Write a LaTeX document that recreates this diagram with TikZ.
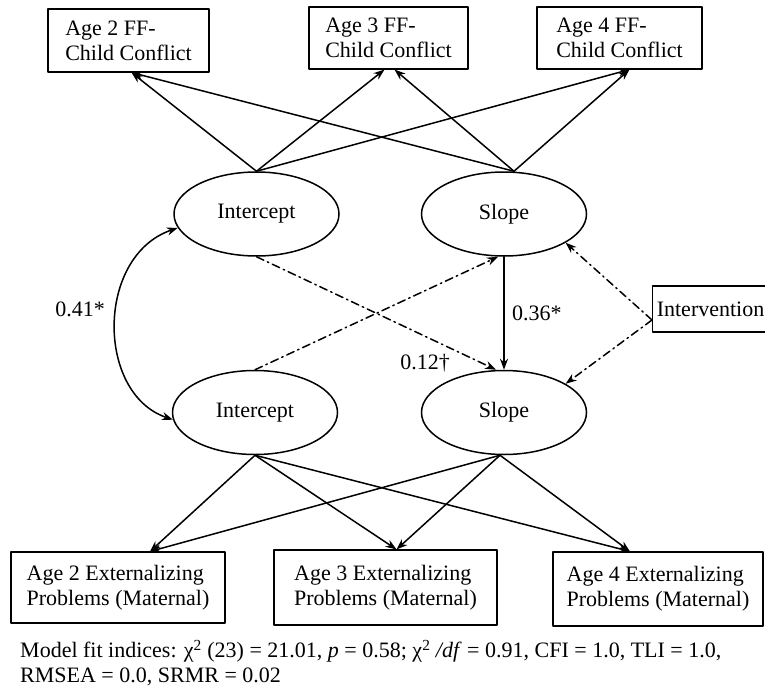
\documentclass[tikz,border=0pt]{standalone}
\usepackage{fontspec}
\setmainfont{Liberation Serif}
\usetikzlibrary{shapes.geometric,arrows.meta}
\begin{document}
\begin{tikzpicture}[x=1pt, y=-1pt, font=\fontsize{22}{25}\selectfont, line join=round, line cap=round, >={Stealth[length=11pt,width=8pt]},
	obs/.style={draw, line width=1.1pt, inner sep=0pt, align=left},
	lat/.style={draw, ellipse, line width=1.5pt, inner sep=0pt, minimum width=165pt, minimum height=84pt},
	load/.style={->, line width=1.5pt},
	dd/.style={->, line width=1.5pt, dash pattern=on 8pt off 4pt on 1.5pt off 4pt}]
	\useasboundingbox (0,0) rectangle (765,698);
	% measured variables
	\node[obs, minimum width=161pt, minimum height=63pt] (ff2) at (128.5,40.5) {Age 2 FF-\\Child Conflict};
	\node[obs, minimum width=159pt, minimum height=62pt] (ff3) at (388.5,38) {Age 3 FF-\\Child Conflict};
	\node[obs, minimum width=165pt, minimum height=62pt] (ff4) at (619.5,38) {Age 4 FF-\\Child Conflict};
	\node[obs, minimum width=214pt, minimum height=71pt] (ex2) at (118,587.5) {Age 2 Externalizing\\Problems (Maternal)};
	\node[obs, minimum width=223pt, minimum height=75pt] (ex3) at (385.5,587.5) {Age 3 Externalizing\\Problems (Maternal)};
	\node[obs, minimum width=210pt, minimum height=74pt] (ex4) at (658,589) {Age 4 Externalizing\\Problems (Maternal)};
	\node[obs, minimum width=116pt, minimum height=46pt, anchor=west] (iv) at (652,309) {Intervention};
	% latent growth factors
	\node[lat] (ti) at (256.5,214) {Intercept};
	\node[lat] (ts) at (504,214) {Slope};
	\node[lat] (bi) at (255,412.5) {Intercept};
	\node[lat] (bs) at (504,412.5) {Slope};
	% ports
	\path
	([xshift=10pt]ts.north) coordinate (tsup)
	([xshift=-4pt]bs.south) coordinate (bsdown)
	([xshift=3pt]ff2.south) coordinate (ff2in)
	([xshift=-4pt]ff3.south) coordinate (ff3inl)
	([xshift=6pt]ff3.south) coordinate (ff3inr)
	([xshift=10pt]ff4.south) coordinate (ff4in)
	([xshift=32pt]ex2.north) coordinate (ex2in)
	([xshift=11pt]ex3.north) coordinate (ex3in)
	([xshift=-28pt]ex4.north) coordinate (ex4in)
	([yshift=-11pt]iv.west) coordinate (ivout)
	;
	\foreach \s/\t in {ti.north/ff2in, ti.north/ff3inl, ti.north/ff4in, tsup/ff2in, tsup/ff3inr, tsup/ff4in,
		bi.south/ex2in, bi.south/ex3in, bi.south/ex4in, bsdown/ex2in, bsdown/ex3in, bsdown/ex4in}
	\draw[load] (\s) -- (\t);
	% cross-domain paths
	\draw[load] (ts.south) -- (bs.north) node[pos=0.5, right=4pt] {0.36*};
	\draw[dd] (ti.south) -- ([xshift=-8pt]bs.north);
	\draw[dd] (bi.north) -- ([xshift=-6pt]ts.south);
	\draw[dd] (ivout) -- (ts.-25);
	\draw[dd] (ivout) -- (bs.25);
	\draw[load, <->] (ti.190) .. controls +(-82,28) and +(-77,-26) .. (bi.185);
	\node (r41) at (80,309) {0.41*};
	\node (r12) at (425,363) {0.12\textdagger};
	% fit
	\node[anchor=north west, align=left, inner sep=0pt] (fit) at (20,640) {Model fit indices: χ\textsuperscript{2} (23) = 21.01, \textit{p} = 0.58; χ\textsuperscript{2} \textit{/df} = 0.91, CFI = 1.0, TLI = 1.0,\\RMSEA = 0.0, SRMR = 0.02};
\end{tikzpicture}
\end{document}
